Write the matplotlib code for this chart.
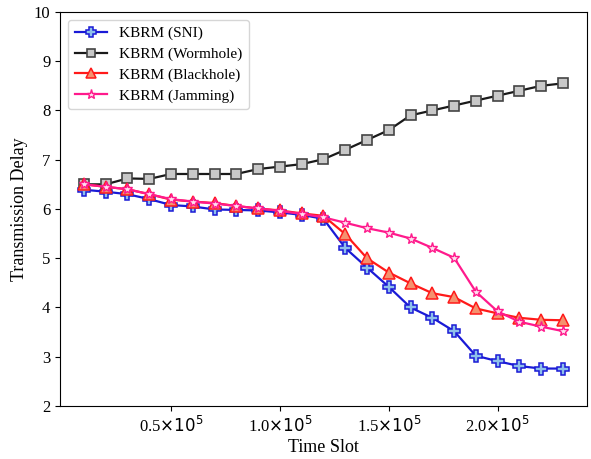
import numpy as np
import matplotlib
matplotlib.use('Agg')
import matplotlib.pyplot as plt
from matplotlib.ticker import FuncFormatter

plt.rcParams['font.family'] = ['Liberation Serif', 'DejaVu Sans']

# time slots (x 10^5)
slots = [0.1, 0.2, 0.3, 0.4, 0.5, 0.6, 0.7, 0.8, 0.9, 1.0, 1.1, 1.2,
         1.3, 1.4, 1.5, 1.6, 1.7, 1.8, 1.9, 2.0, 2.1, 2.2, 2.3]

sni = [6.39, 6.35, 6.30, 6.20, 6.08, 6.05, 5.99, 5.98, 5.97, 5.93, 5.88, 5.80,
       5.21, 4.81, 4.42, 4.0, 3.79, 3.52, 3.02, 2.91, 2.81, 2.76, 2.76]
wormhole = [6.5, 6.5, 6.62, 6.61, 6.71, 6.71, 6.71, 6.71, 6.81, 6.86, 6.91, 7.01,
            7.2, 7.4, 7.6, 7.9, 8.0, 8.1, 8.2, 8.3, 8.4, 8.5, 8.55]
blackhole = [6.5, 6.45, 6.40, 6.30, 6.19, 6.15, 6.12, 6.06, 6.01, 5.97, 5.91, 5.86,
             5.49, 5.0, 4.71, 4.49, 4.29, 4.21, 3.98, 3.88, 3.79, 3.75, 3.74]
jamming = [6.5, 6.45, 6.40, 6.30, 6.20, 6.15, 6.11, 6.06, 6.01, 5.96, 5.90, 5.83,
           5.72, 5.61, 5.52, 5.40, 5.21, 5.01, 4.32, 3.92, 3.71, 3.61, 3.52]

x = np.array(slots) * 1e5

fig = plt.figure(figsize=(5.91, 4.59), dpi=100)
ax = fig.add_axes([0.1015, 0.1155, 0.8915, 0.8585])

ax.plot(x, sni, '-P', color='#1a1ad6', lw=1.6, ms=8.5,
        mfc='#8ec0ea', mec='#1a1ad6', mew=1.1, label='KBRM (SNI)')
ax.plot(x, wormhole, '-s', color='#1a1a1a', lw=1.6, ms=7,
        mfc='#c8c8c8', mec='#444444', mew=1.2, label='KBRM (Wormhole)')
ax.plot(x, blackhole, '-^', color='#ff1a1a', lw=1.6, ms=8,
        mfc='#f5916e', mec='#ff1a1a', mew=1.1, label='KBRM (Blackhole)')
ax.plot(x, jamming, '-*', color='#ff1a8c', lw=1.6, ms=8,
        mfc='#fde0ee', mec='#ff1a8c', mew=1.0, label='KBRM (Jamming)')

ax.set_ylim(2, 10)
ax.set_xticks([0.5e5, 1.0e5, 1.5e5, 2.0e5])
ax.xaxis.set_major_formatter(FuncFormatter(lambda v, p: f'{v/1e5:.1f}' + r'$\times10^5$'))
ax.tick_params(labelsize=12)
ax.set_xlabel('Time Slot', fontsize=13, labelpad=2)
ax.set_ylabel('Transmission Delay', fontsize=13)
ax.legend(loc='upper left', fontsize=11, handlelength=2.1, borderpad=0.45,
          labelspacing=0.45, handletextpad=0.8, markerscale=0.85)

fig.savefig('out.png', dpi=100)
